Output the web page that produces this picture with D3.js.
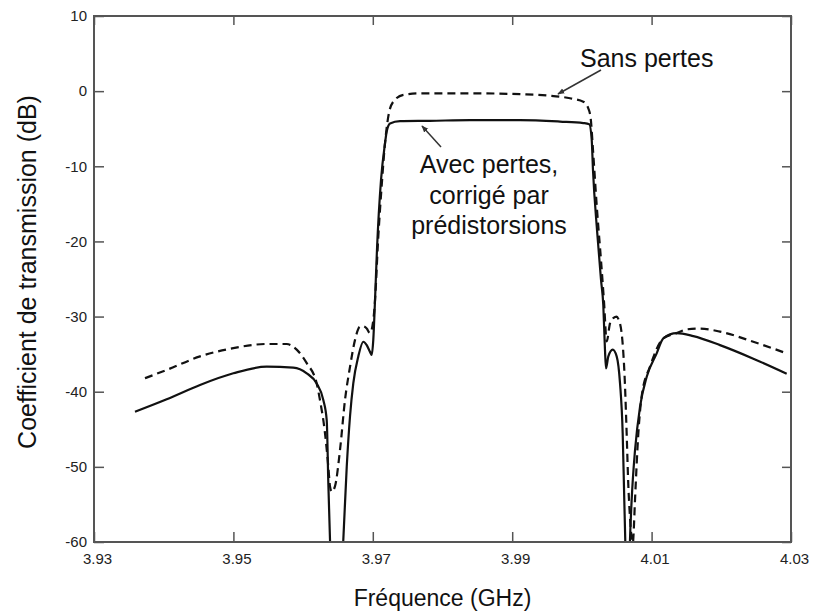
<!DOCTYPE html>
<html><head><meta charset="utf-8">
<script src="https://cdn.jsdelivr.net/npm/d3@7"></script>
<style>
html,body{margin:0;padding:0;background:#fff;}
svg text{font-family:"Liberation Sans",Arial,sans-serif;}
</style></head>
<body><svg id="c" width="814" height="613"></svg>
<script>
// ---- data ----
const xTicks = [3.93, 3.95, 3.97, 3.99, 4.01, 4.03];
const xTickLabels = ["3.93", "3.95", "3.97", "3.99", "4.01", "4.03"];
const yTicks = [10, 0, -10, -20, -30, -40, -50, -60];
const yTickLabels = ["10", "0", "-10", "-20", "-30", "-40", "-50", "-60"];

// "Sans pertes" (dashed)
const freqSans = [3.93732,3.94043,3.94521,3.94999,3.95478,3.95765,3.95908,3.96052,3.96195,3.96242,3.96314,3.96362,3.96386,3.96410,3.96457,3.96529,3.96601,3.96673,3.96745,3.96816,3.96864,3.96913,3.96960,3.97007,3.97032,3.97075,3.97132,3.97175,3.97222,3.97294,3.97438,3.97677,3.98394,3.99112,3.99542,3.99829,4.00020,4.00092,4.00126,4.00159,4.00217,4.00274,4.00317,4.00356,4.00403,4.00450,4.00499,4.00522,4.00570,4.00617,4.00642,4.00665,4.00689,4.00714,4.00725,4.00737,4.00762,4.00810,4.00864,4.00976,4.01167,4.01360,4.01503,4.01683,4.01981,4.02459,4.02938];
const dbSans = [-38.2,-37.1,-35.3,-34.2,-33.65,-33.65,-34.4,-36.2,-38.9,-41.1,-45.5,-50.0,-52.6,-53.3,-52.6,-47.8,-41.1,-36.7,-33.1,-31.35,-31.3,-31.6,-32.2,-30.5,-27.8,-20,-12,-6.95,-3.4,-1.4,-0.5,-0.29,-0.29,-0.4,-0.6,-0.95,-1.4,-2.3,-3.6,-7.8,-15.8,-22.5,-28.0,-33.3,-30.9,-30.2,-30.0,-30.3,-32.2,-38.9,-45.5,-52.2,-56.6,-59.7,-61,-59.7,-54.4,-45.5,-40.2,-36.7,-32.9,-32.2,-31.7,-31.6,-32.0,-33.35,-34.9];

// "Avec pertes, corrigé par prédistorsions" (solid)
const freqAvec = [3.93588,3.94043,3.94521,3.94999,3.95478,3.95859,3.96052,3.96195,3.96290,3.96339,3.96362,3.96386,3.96480,3.96577,3.96626,3.96673,3.96720,3.96792,3.96864,3.96913,3.96960,3.96984,3.97007,3.97032,3.97060,3.97118,3.97175,3.97199,3.97247,3.97390,3.97820,3.98394,3.99112,3.99686,4.00020,4.00106,4.00141,4.00159,4.00217,4.00274,4.00307,4.00331,4.00346,4.00379,4.00442,4.00499,4.00547,4.00585,4.00608,4.00622,4.00655,4.00690,4.00714,4.00762,4.00834,4.00930,4.01073,4.01168,4.01360,4.01598,4.01981,4.02459,4.02938];
const dbAvec = [-42.66,-41.0,-39.1,-37.55,-36.67,-36.8,-37.55,-38.9,-41.1,-43.8,-52.2,-59.7,-75,-59.7,-50.0,-43.3,-38.9,-35.3,-33.35,-33.8,-34.7,-35.1,-33.1,-27.8,-21.1,-11.8,-6.95,-5.4,-4.3,-4.0,-3.95,-3.85,-3.85,-4.05,-4.25,-4.4,-6.5,-10.5,-18.5,-25.1,-28.5,-34.4,-36.9,-35.3,-34.4,-35.3,-38.9,-45.5,-54.4,-59.7,-75,-59.7,-54.4,-47.8,-42.0,-38.0,-34.9,-32.9,-32.2,-32.6,-33.8,-35.6,-37.6];

const labelSans = "Sans pertes";
const labelAvec = ["Avec pertes,", "corrigé par", "prédistorsions"];
const xTitle = "Fréquence (GHz)";
const yTitle = "Coefficient de transmission (dB)";

// ---- layout ----
const svg = d3.select("#c");
const L = 94, R = 791, T = 16, B = 542;
const x = d3.scaleLinear().domain([3.93, 4.03]).range([L, R]);
const y = d3.scaleLinear().domain([-60, 10]).range([B, T]);

svg.append("defs").append("clipPath").attr("id","clip")
  .append("rect").attr("x", L).attr("y", T).attr("width", R-L).attr("height", B-T);
const mk = svg.select("defs").append("marker").attr("id","arr")
  .attr("viewBox","0 0 10 10").attr("refX",9).attr("refY",5)
  .attr("markerWidth",7).attr("markerHeight",7).attr("orient","auto-start-reverse")
  .attr("markerUnits","userSpaceOnUse");
mk.append("path").attr("d","M0,1 L10,5 L0,9 Z").attr("fill","#333");

const line = d3.line().x(d => x(d[0])).y(d => y(d[1])).curve(d3.curveMonotoneX);
const g = svg.append("g").attr("clip-path","url(#clip)");
g.append("path").datum(d3.zip(freqAvec, dbAvec)).attr("d", line)
  .attr("fill","none").attr("stroke","#111").attr("stroke-width",2.2);
g.append("path").datum(d3.zip(freqSans, dbSans)).attr("d", line)
  .attr("fill","none").attr("stroke","#111").attr("stroke-width",2.2)
  .attr("stroke-dasharray","8,5");

// axes
const axStyle = sel => {
  sel.select(".domain").remove();
  sel.selectAll(".tick line").attr("stroke","#555").attr("stroke-width",1.5);
  sel.selectAll(".tick text").attr("fill","#222").style("font-size","15px")
     .style("font-family","'Liberation Sans',Arial,sans-serif");
};
svg.append("g").attr("transform",`translate(${L},0)`)
  .call(d3.axisLeft(y).tickValues(yTicks).tickFormat((d,i)=>yTickLabels[i]).tickSize(-10).tickPadding(7))
  .call(axStyle);
svg.append("g").attr("transform",`translate(${R},0)`)
  .call(d3.axisRight(y).tickValues(yTicks).tickFormat("").tickSize(-9))
  .call(axStyle);
svg.append("g").attr("transform",`translate(0,${B})`)
  .call(d3.axisBottom(x).tickValues(xTicks).tickFormat((d,i)=>xTickLabels[i]).tickSize(-10).tickPadding(11))
  .call(axStyle)
  .selectAll(".tick text").attr("dx", 3);
svg.append("g").attr("transform",`translate(0,${T})`)
  .call(d3.axisTop(x).tickValues(xTicks).tickFormat("").tickSize(-9))
  .call(axStyle);
svg.append("rect").attr("x",L).attr("y",T).attr("width",R-L).attr("height",B-T)
  .attr("fill","none").attr("stroke","#555").attr("stroke-width",2);

// titles
svg.append("text").attr("x",(L+R)/2).attr("y",606).attr("text-anchor","middle")
  .style("font-size","23px").attr("fill","#111").text(xTitle);
svg.append("text").attr("transform","translate(36,272) rotate(-90)").attr("text-anchor","middle")
  .style("font-size","25px").attr("fill","#111").text(yTitle);

// annotations
svg.append("text").attr("x",580).attr("y",67).style("font-size","25px").attr("fill","#111").text(labelSans);
svg.append("line").attr("x1",601).attr("y1",70).attr("x2",558).attr("y2",94)
  .attr("stroke","#333").attr("stroke-width",1.5).attr("marker-end","url(#arr)");
const ta = svg.append("text").attr("text-anchor","middle").style("font-size","25px").attr("fill","#111");
labelAvec.forEach((s,i)=> ta.append("tspan").attr("x",489).attr("y",173+i*30.5).text(s));
svg.append("line").attr("x1",441).attr("y1",147).attr("x2",422).attr("y2",126)
  .attr("stroke","#333").attr("stroke-width",1.5).attr("marker-end","url(#arr)");
</script></body></html>
